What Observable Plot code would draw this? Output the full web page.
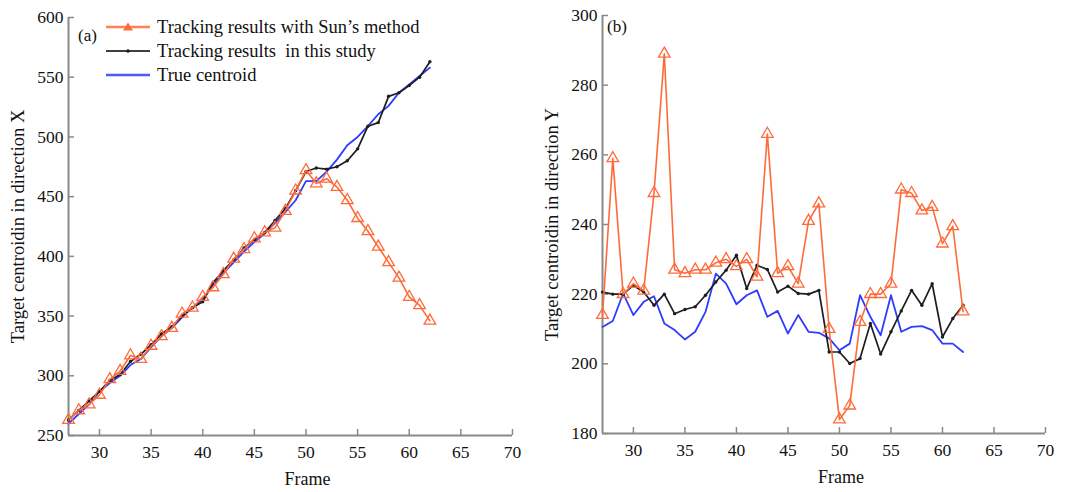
<!DOCTYPE html>
<html>
<head>
<meta charset="utf-8">
<script src="https://cdn.jsdelivr.net/npm/d3@7"></script>
<script src="https://cdn.jsdelivr.net/npm/@observablehq/plot@0.6"></script>
<style>
  body { margin: 0; background: #fff; }
  #wrap { position: relative; width: 1070px; height: 492px; display: flex; }
  .panel { position: relative; }
  .legend { position: absolute; left: 105px; top: 15px; font-family: "Liberation Serif", serif; font-size: 18.5px; color: #111; }
  .legend .row { display: flex; align-items: center; height: 24px; }
  .legend svg { margin-right: 6px; }
  .tag { position: absolute; font-family: "Liberation Serif", serif; font-size: 17px; color: #111; }
</style>
</head>
<body>
<div id="wrap">
  <div class="panel" id="pa"></div>
  <div class="panel" id="pb"></div>
</div>
<script>
const frames = [27,28,29,30,31,32,33,34,35,36,37,38,39,40,41,42,43,44,45,46,47,48,49,50,51,52,53,54,55,56,57,58,59,60,61,62];

const sunX  = [263,271,276,284,297,304,317,314,325,333,340,352,357,366,374,385,398,406,415,420,424,438,455,472,461,465,458,447,432,421,408,395,382,366,359,346];
const oursX = [263,271,279,287,296,301,312,318,326,335,341,350,357,362,378,388,397,407,414,420,430,440,455,471,474,473,475,480,490,509,512,534,537,543,550,563];
const trueX = [260,268,276,287,294,300,309,314,324,333,340,349,357,364,376,386,395,404,412,419,428,437,447,463,463,471,481,493,500,509,519,526,537,544,551,558];

const sunY  = [214,259,220,223,221,249,289,227,226,227,227,229,230,228,230,225,266,226,228,223,241,246,210,184,188,212,220,220,223,250,249,244,245,234.5,239.5,215];
const oursY = [220.6,220,220,222.5,220.6,216.8,220,214.4,215.6,216.4,219.7,223.5,226.9,231.2,221.6,228.3,227.1,220.6,222.3,220.2,220,221.1,203.4,203.4,200.1,201.5,211.6,202.8,209.2,215.2,221.1,216.8,223,207.7,213,216.8];
const trueY = [210.6,212.3,220.2,214,217.8,219.4,211.6,209.7,207,209.2,214.9,225.9,223,217.1,219.7,221.1,213.5,215.2,208.7,214,209.2,208.9,207.3,203.9,205.8,219.7,213.5,208.2,219.7,209.2,210.6,210.8,209.7,205.8,205.8,203.4];

const xTicks = [30,35,40,45,50,55,60,65,70];
const yTicksA = [250,300,350,400,450,500,550,600];
const yTicksB = [180,200,220,240,260,280,300];

const seriesNames = ["Tracking results with Sun\u2019s method", "Tracking results  in this study", "True centroid"];
const colors = ["#ff6a3a", "#1e1e1e", "#2d3cff"];
const xLabel = "Frame";
const yLabelA = "Target centroidin in direction X";
const yLabelB = "Target centroidin in direction Y";

function rows(sun, ours, tru) {
  return frames.map((f, i) => ({f, sun: sun[i], ours: ours[i], tru: tru[i]}));
}

function panel({data, yDomain, yTicks, yLabel, width, ml, mr, mt, mb}) {
  const axisColor = "#8a8a8a";
  return Plot.plot({
    width, height: 492,
    marginLeft: ml, marginRight: mr, marginTop: mt, marginBottom: mb,
    style: {fontFamily: "Liberation Serif, serif", fontSize: "17.5px", color: "#111", background: "#fff"},
    x: {domain: [27, 70]},
    y: {domain: yDomain},
    marks: [
      Plot.axisX(xTicks, {tickSize: -6, tickPadding: 16, stroke: axisColor, strokeWidth: 1.5, label: null}),
      Plot.axisY(yTicks, {tickSize: -6, tickPadding: 11, stroke: axisColor, strokeWidth: 1.5, label: null}),
      Plot.ruleX([yDomain[0]], {x: () => 27, y1: yDomain[0], y2: yDomain[1], stroke: axisColor, strokeWidth: 2}),
      Plot.ruleY([yDomain[0]], {x1: 27, x2: 70, stroke: axisColor, strokeWidth: 2}),
      Plot.text([xLabel], {frameAnchor: "bottom", dy: 49, dx: 17, text: d => d, fontSize: 18}),
      Plot.text([yLabel], {frameAnchor: "left", textAnchor: "middle", dx: -50, rotate: -90, text: d => d, fontSize: 18.5}),
      Plot.line(data, {x: "f", y: "tru", stroke: colors[2], strokeWidth: 1.8}),
      Plot.line(data, {x: "f", y: "ours", stroke: colors[1], strokeWidth: 1.7}),
      Plot.dot(data, {x: "f", y: "ours", r: 1.7, fill: colors[1]}),
      Plot.line(data, {x: "f", y: "sun", stroke: colors[0], strokeWidth: 1.6}),
      Plot.dot(data, {x: "f", y: "sun", symbol: "triangle", r: 4.3, stroke: colors[0], strokeWidth: 1.3, fill: "none"})
    ]
  });
}

const pa = panel({data: rows(sunX, oursX, trueX), yDomain: [250, 600], yTicks: yTicksA, yLabel: yLabelA,
  width: 535, ml: 68, mr: 23, mt: 17, mb: 57});
const pb = panel({data: rows(sunY, oursY, trueY), yDomain: [180, 300], yTicks: yTicksB, yLabel: yLabelB,
  width: 535, ml: 67, mr: 25, mt: 15, mb: 59});

document.getElementById("pa").appendChild(pa);
document.getElementById("pb").appendChild(pb);

// panel tags
const tagA = document.createElement("div");
tagA.className = "tag"; tagA.style.left = "78px"; tagA.style.top = "26px"; tagA.textContent = "(a)";
document.getElementById("pa").appendChild(tagA);
const tagB = document.createElement("div");
tagB.className = "tag"; tagB.style.left = "72px"; tagB.style.top = "17px"; tagB.textContent = "(b)";
document.getElementById("pb").appendChild(tagB);

// legend
const leg = document.createElement("div");
leg.className = "legend";
seriesNames.forEach((name, i) => {
  const row = document.createElement("div");
  row.className = "row";
  const s = d3.create("svg").attr("width", 46).attr("height", 12);
  s.append("line").attr("x1", 1).attr("x2", 45).attr("y1", 6).attr("y2", 6)
    .attr("stroke", colors[i]).attr("stroke-width", i === 1 ? 2 : 2.5).attr("opacity", 0.85);
  if (i === 0) s.append("path").attr("d", "M23,1.5L28,9.5L18,9.5Z").attr("fill", colors[0]);
  if (i === 1) s.append("circle").attr("cx", 23).attr("cy", 6).attr("r", 1.8).attr("fill", colors[1]);
  row.appendChild(s.node());
  const t = document.createElement("span");
  t.textContent = name;
  t.style.whiteSpace = "pre";
  row.appendChild(t);
  leg.appendChild(row);
});
document.getElementById("pa").appendChild(leg);
</script>
</body>
</html>
